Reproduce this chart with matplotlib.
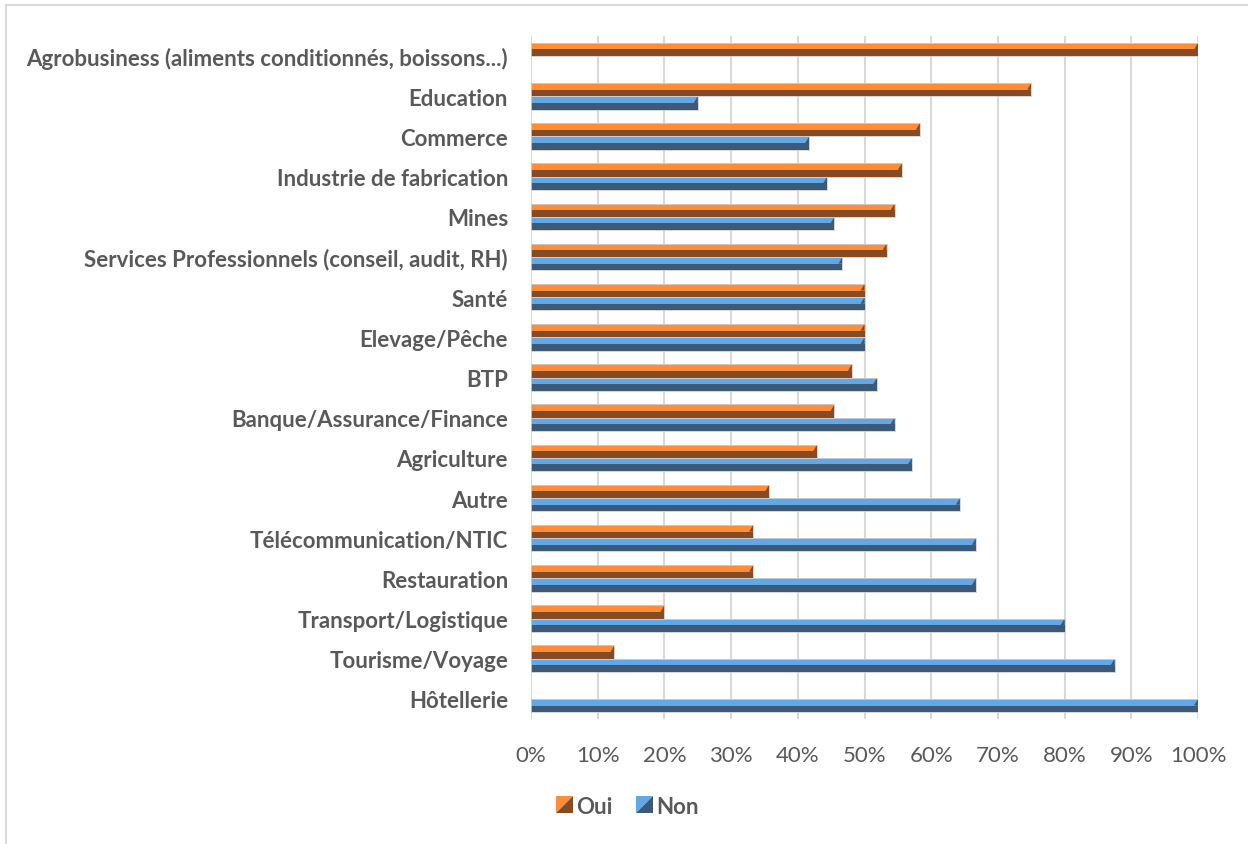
import matplotlib.pyplot as plt
import numpy as np
from matplotlib.patches import Polygon, Rectangle
from matplotlib.lines import Line2D
from matplotlib.legend_handler import HandlerBase

categories = [
    "Agrobusiness (aliments conditionnés, boissons...)",
    "Education",
    "Commerce",
    "Industrie de fabrication",
    "Mines",
    "Services Professionnels (conseil, audit, RH)",
    "Santé",
    "Elevage/Pêche",
    "BTP",
    "Banque/Assurance/Finance",
    "Agriculture",
    "Autre",
    "Télécommunication/NTIC",
    "Restauration",
    "Transport/Logistique",
    "Tourisme/Voyage",
    "Hôtellerie",
]
oui = [1.0, 0.75, 0.583, 0.556, 0.545, 0.533, 0.50, 0.50, 0.481, 0.455,
       0.429, 0.357, 0.333, 0.333, 0.20, 0.125, 0.0]
non = [0.0, 0.25, 0.417, 0.444, 0.455, 0.467, 0.50, 0.50, 0.519, 0.545,
       0.571, 0.643, 0.667, 0.667, 0.80, 0.875, 1.0]
xticks = np.arange(0, 1.01, 0.1)

ORANGE_LIGHT, ORANGE_DARK = "#FF8C37", "#874B23"
BLUE_LIGHT, BLUE_DARK = "#62A8E6", "#3C5A78"
TEXT = "#595959"

plt.rcParams["font.family"] = ["Lato", "DejaVu Sans"]

fig = plt.figure(figsize=(12.48, 8.45), dpi=100)
ax = fig.add_axes([531 / 1248, 1 - 720 / 845, 667 / 1248, 683 / 845])

y = np.arange(len(categories))
h = 0.33  # height of one bar


def bar3d(values, y_top, light, dark):
    # light upper face, dark front face, small bevel at the right end
    half = h / 2
    ax.barh(y_top + half / 2, values, height=half, color=light, linewidth=0, zorder=3)
    ax.barh(y_top + 1.5 * half, values, height=half, color=dark, linewidth=0, zorder=3)
    for v, yt in zip(values, y_top):
        if v <= 0:
            continue
        b = 0.006
        ax.add_patch(Polygon([(v - b, yt + half), (v, yt), (v, yt + half)],
                             closed=True, color=dark, lw=0, zorder=4))
        ax.add_patch(Rectangle((0, yt), v, h, fill=False, ec="#cfcfcf", lw=0.6, zorder=5))


bar3d(oui, y - h, ORANGE_LIGHT, ORANGE_DARK)
bar3d(non, y, BLUE_LIGHT, BLUE_DARK)

ax.set_xlim(0, 1)
ax.set_ylim(len(categories) - 0.5, -0.5)
ax.set_xticks(xticks)
ax.set_xticklabels([f"{int(round(t * 100))}%" for t in xticks])
ax.set_yticks(y)
ax.set_yticklabels(categories, fontweight="bold", fontsize=16, color=TEXT)
ax.tick_params(axis="x", colors=TEXT, labelsize=16, length=0, pad=19)
ax.tick_params(axis="y", length=0, pad=16.5)
ax.grid(axis="x", color="#d9d9d9", lw=1.5, zorder=0)
for s in ax.spines.values():
    s.set_visible(False)


class SplitSquare(HandlerBase):
    def create_artists(self, legend, orig, xd, yd, w, hh, fontsize, trans):
        light, dark = orig
        s = min(w, hh)
        x0, y0 = xd + w - s, yd
        t1 = Polygon([(x0, y0), (x0, y0 + s), (x0 + s, y0 + s)], closed=True,
                     color=light, lw=0, transform=trans)
        t2 = Polygon([(x0, y0), (x0 + s, y0), (x0 + s, y0 + s)], closed=True,
                     color=dark, lw=0, transform=trans)
        return [t1, t2]


handles = [(ORANGE_LIGHT, ORANGE_DARK), (BLUE_LIGHT, BLUE_DARK)]
leg = fig.legend(handles, ["Oui", "Non"], handler_map={tuple: SplitSquare()},
                 loc="center", bbox_to_anchor=(627 / 1248, 1 - 808 / 845),
                 ncol=2, frameon=False, handlelength=0.8, handleheight=0.8,
                 handletextpad=0.15, columnspacing=1.0,
                 prop={"weight": "bold", "size": 16})
for t in leg.get_texts():
    t.set_color(TEXT)

# chart frame (top and left edges)
fig.add_artist(Line2D([6 / 1248, 1], [1 - 6 / 845] * 2, color="#d9d9d9", lw=1.5))
fig.add_artist(Line2D([6 / 1248] * 2, [0, 1 - 6 / 845], color="#d9d9d9", lw=1.5))

fig.savefig("out.png", dpi=100)
